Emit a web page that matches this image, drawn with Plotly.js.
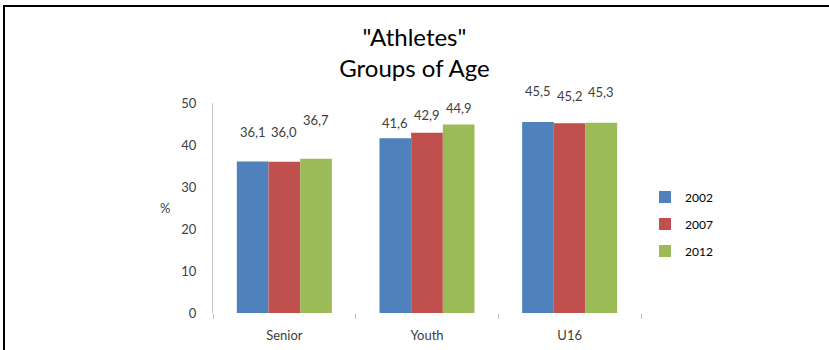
<!DOCTYPE html>
<html>
<head>
<meta charset="utf-8">
<script src="https://cdn.plot.ly/plotly-3.0.1.min.js"></script>
<style>
  html, body { margin: 0; padding: 0; background: #fff; }
  #wrap { position: relative; width: 829px; height: 350px; overflow: hidden; }
  #chart { position: absolute; left: 0; top: 0; width: 829px; height: 350px; }
  #frame { position: absolute; left: 3px; top: 5px; width: 840px; height: 360px;
           border-left: 2px solid #000; border-top: 2px solid #000; pointer-events: none; }
</style>
</head>
<body>
<div id="wrap"><div id="chart"></div><div id="frame"></div></div>
<script>
// ---- data ----
const categories = ["Senior", "Youth", "U16"];
const seriesNames = ["2002", "2007", "2012"];
const values2002 = [36.1, 41.6, 45.5];
const values2007 = [36.0, 42.9, 45.2];
const values2012 = [36.7, 44.9, 45.3];
const yAxisLabel = "%";

// ---- style ----
const colors = ["#4F81BD", "#C0504D", "#9BBB59"];
const labelLift = [ [29, 15, 31], [30, 18, 27], [39, 16, 31] ]; // px above bar top, per series/category
const FONT = "Lato, 'Open Sans', sans-serif";
const margin = {l: 213, r: 188, t: 103, b: 37};
const W = 829, H = 350;
const bargap = 0.334;

const allValues = [values2002, values2007, values2012];
const traces = allValues.map((vals, i) => ({
  type: "bar",
  name: seriesNames[i],
  x: categories,
  y: vals,
  marker: {color: colors[i], line: {width: 0}},
  legendgroup: "g" + i,
  hoverinfo: "none"
}));

const plotW = W - margin.l - margin.r;
const plotH = H - margin.t - margin.b;
const barW = plotW / categories.length * (1 - bargap) / seriesNames.length;
const fmt = v => v.toFixed(1).replace(".", ",");

const annotations = [];
allValues.forEach((vals, i) => {
  vals.forEach((v, j) => {
    annotations.push({
      x: categories[j], y: v, xref: "x", yref: "y",
      text: fmt(v), showarrow: false,
      xshift: (i - 1) * barW, yshift: labelLift[i][j],
      yanchor: "middle", xanchor: "center",
      font: {family: FONT, size: 13, color: "#404040"}
    });
  });
});
// horizontal y-axis label
annotations.push({
  x: (165 - margin.l) / plotW, xref: "paper", xanchor: "center",
  y: 0.5, yref: "paper", yanchor: "middle",
  text: yAxisLabel, showarrow: false,
  font: {family: FONT, size: 13, color: "#404040"}
});

const layout = {
  width: W, height: H,
  margin: margin,
  paper_bgcolor: "#fff", plot_bgcolor: "#fff",
  separators: ",.",
  font: {family: FONT, size: 12, color: "#404040"},
  barmode: "group",
  bargap: bargap,
  bargroupgap: 0,
  title: {
    text: '"Athletes"<br>Groups of Age',
    font: {family: FONT, size: 24, color: "#000"},
    x: 0.5, xref: "container", xanchor: "center",
    y: 1 - 46 / H, yref: "container", yanchor: "middle"
  },
  xaxis: {
    type: "category",
    showline: false, showgrid: false, zeroline: false,
    ticks: "outside", tickson: "boundaries", ticklen: 5, tickwidth: 1, tickcolor: "#BFBFBF",
    tickfont: {family: FONT, size: 13, color: "#404040"},
    ticklabelstandoff: 13
  },
  yaxis: {
    range: [0, 50], dtick: 10, tick0: 0,
    showline: true, linecolor: "#C8C8C8", linewidth: 1,
    showgrid: false, zeroline: false, ticks: "",
    tickfont: {family: FONT, size: 13, color: "#404040"},
    ticklabelstandoff: 13
  },
  showlegend: true,
  legend: {
    x: (645 - margin.l) / plotW, xanchor: "left",
    y: (313 - 224) / plotH, yanchor: "middle",
    font: {family: FONT, size: 12, color: "#000"},
    tracegroupgap: 8, itemwidth: 30, bgcolor: "rgba(0,0,0,0)"
  },
  annotations: annotations
};

Plotly.newPlot("chart", traces, layout, {staticPlot: true, displayModeBar: false});
</script>
</body>
</html>
